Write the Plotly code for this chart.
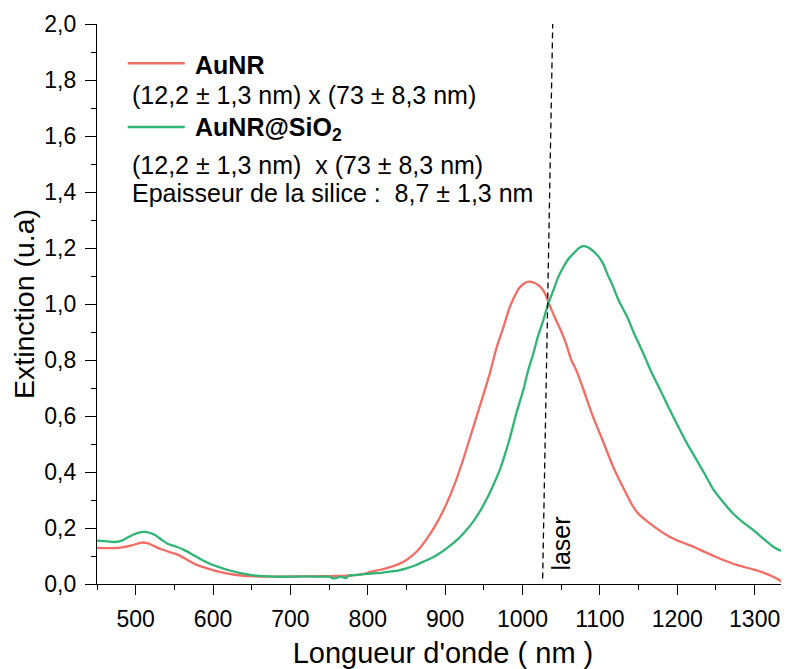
import plotly.graph_objects as go

# ---------------- data ----------------
wl_aunr = [450, 465, 480, 495, 507, 515, 533, 555, 576, 602, 628, 654, 680, 710, 740,
           760, 780, 795, 803, 815, 830, 840, 850, 863, 876, 890, 902, 913, 923, 935, 947,
           958, 966, 975, 983, 988, 996, 1003, 1008, 1015, 1020, 1025, 1029, 1035, 1042,
           1048, 1056, 1063, 1070, 1078, 1091, 1104, 1117, 1130, 1143, 1150, 1156, 1170,
           1190, 1205, 1221, 1235, 1247, 1262, 1277, 1298, 1312, 1324, 1332, 1338, 1346]
ext_aunr = [0.129, 0.128, 0.130, 0.138, 0.148, 0.146, 0.124, 0.104, 0.072, 0.048, 0.033,
            0.027, 0.026, 0.027, 0.028, 0.029, 0.031, 0.036, 0.043, 0.050, 0.061, 0.071, 0.086,
            0.115, 0.160, 0.222, 0.288, 0.362, 0.442, 0.548, 0.655, 0.755, 0.840, 0.915,
            0.985, 1.018, 1.058, 1.075, 1.080, 1.076, 1.068, 1.055, 1.038, 0.996, 0.950,
            0.915, 0.860, 0.800, 0.760, 0.700, 0.598, 0.510, 0.419, 0.345, 0.276, 0.250,
            0.235, 0.205, 0.169, 0.150, 0.133, 0.115, 0.100, 0.083, 0.068, 0.052, 0.040,
            0.026, 0.014, 0.002, -0.012]

wl_sio2 = [450, 460, 473, 482, 490, 500, 510, 518, 525, 535, 542, 553, 563, 578, 593, 606,
           619, 634, 650, 665, 680, 700, 720, 740, 750, 755, 760, 765, 772, 775, 785, 795,
           807, 818, 828, 840, 850, 861, 872, 883, 893, 904, 915, 925, 936, 945, 954, 962,
           971, 977, 984, 992, 1001, 1007, 1014, 1020, 1027, 1033, 1040, 1046, 1053, 1059,
           1066, 1072, 1078, 1085, 1091, 1098, 1104, 1110, 1117, 1124, 1135, 1145, 1152,
           1156, 1166, 1178, 1188, 1199, 1212, 1225, 1236, 1247, 1260, 1272, 1285, 1298,
           1312, 1324, 1333, 1342, 1346]
ext_sio2 = [0.155, 0.153, 0.150, 0.155, 0.167, 0.180, 0.186, 0.183, 0.175, 0.155, 0.143,
            0.133, 0.121, 0.098, 0.076, 0.062, 0.050, 0.040, 0.032, 0.028, 0.026, 0.026,
            0.027, 0.026, 0.026, 0.020, 0.022, 0.026, 0.021, 0.030, 0.032, 0.035, 0.038,
            0.040, 0.044, 0.049, 0.056, 0.066, 0.080, 0.094, 0.110, 0.132, 0.157, 0.185,
            0.222, 0.260, 0.305, 0.352, 0.410, 0.460, 0.525, 0.610, 0.693, 0.760, 0.824,
            0.885, 0.943, 1.000, 1.050, 1.095, 1.133, 1.160, 1.181, 1.198, 1.207, 1.202,
            1.190, 1.170, 1.145, 1.105, 1.062, 1.014, 0.955, 0.890, 0.848, 0.824, 0.760,
            0.693, 0.635, 0.574, 0.505, 0.443, 0.390, 0.336, 0.290, 0.252, 0.220, 0.193,
            0.160, 0.133, 0.120, 0.115, 0.110]

laser_wl = [1026, 1039]
laser_ext = [0.02, 2.0]

x_ticks = [500, 600, 700, 800, 900, 1000, 1100, 1200, 1300]
y_ticks = [0.0, 0.2, 0.4, 0.6, 0.8, 1.0, 1.2, 1.4, 1.6, 1.8, 2.0]
x_range = [450, 1344.4]
y_range = [0, 2.0]

red = "#F26D64"
green = "#2FB574"
FONT = "Liberation Sans, Arial, sans-serif"

fig = go.Figure()
fig.add_trace(go.Scatter(x=wl_aunr, y=ext_aunr, mode="lines", name="AuNR",
                         line=dict(color=red, width=2.3, shape="spline", smoothing=0.6),
                         showlegend=False))
fig.add_trace(go.Scatter(x=wl_sio2, y=ext_sio2, mode="lines", name="AuNR@SiO2",
                         line=dict(color=green, width=2.3, shape="spline", smoothing=0.6),
                         showlegend=False))
fig.add_trace(go.Scatter(x=laser_wl, y=laser_ext, mode="lines", name="laser",
                         line=dict(color="black", width=1.3, dash="6px,4px"),
                         showlegend=False))

axis_common = dict(showgrid=False, zeroline=False, linecolor="black", linewidth=1.3,
                   tickcolor="black", tickwidth=1.3, automargin=False)

# the page body has an 8 px margin, so the figure is 8 px smaller than the window
fig.update_layout(
    width=781, height=661,
    margin=dict(l=89, r=0, t=16, b=85),
    plot_bgcolor="white", paper_bgcolor="white",
    separators=",.",
    font=dict(family=FONT, color="black"),
    xaxis=dict(range=x_range, tickvals=x_ticks, ticks="outside", ticklen=10,
               showline=True, tickfont=dict(size=23), ticklabelstandoff=4,
               minor=dict(dtick=50, tick0=450, ticklen=5, ticks="outside",
                          tickcolor="black", tickwidth=1.3),
               title=dict(text="Longueur d'onde ( nm )", font=dict(size=29), standoff=17),
               **axis_common),
    yaxis=dict(range=y_range, tickvals=y_ticks, tickformat=".1f", ticks="outside",
               ticklen=11, showline=True, tickfont=dict(size=23), ticklabelstandoff=4,
               minor=dict(dtick=0.1, tick0=0, ticklen=5, ticks="outside",
                          tickcolor="black", tickwidth=1.3),
               title=dict(text="Extinction (u.a)", font=dict(size=28.5), standoff=2),
               **axis_common),
    xaxis2=dict(range=x_range, overlaying="x", side="top", anchor="y",
                tickvals=x_ticks, ticks="inside", ticklen=10, showticklabels=False,
                showline=True,
                minor=dict(dtick=50, tick0=450, ticklen=5, ticks="inside",
                           tickcolor="black", tickwidth=1.3),
                **axis_common),
    yaxis2=dict(range=y_range, overlaying="y", side="right", anchor="x",
                tickvals=y_ticks, ticks="inside", ticklen=6, showticklabels=False,
                showline=False, automargin=False,
                minor=dict(dtick=0.1, tick0=0, ticklen=2, ticks="inside",
                           tickcolor="black", tickwidth=1.3),
                showgrid=False, zeroline=False, tickcolor="black", tickwidth=1.3),
)

# legend-like block (lines + text)
fig.add_shape(type="line", xref="paper", yref="paper", x0=0.0444, x1=0.1268,
              y0=0.930, y1=0.930, line=dict(color=red, width=2.5))
fig.add_shape(type="line", xref="paper", yref="paper", x0=0.0444, x1=0.1268,
              y0=0.816, y1=0.816, line=dict(color=green, width=2.5))

def note(text, x, y, size=25):
    fig.add_annotation(text=text, xref="paper", yref="paper", x=x, y=y,
                       xanchor="left", yanchor="middle", showarrow=False,
                       font=dict(size=size, color="black", family=FONT))

note("<b>AuNR</b>", 0.1385, 0.927)
note("(12,2 ± 1,3 nm) x (73 ± 8,3 nm)", 0.0474, 0.873)
note("<b>AuNR@SiO<sub>2</sub></b>", 0.1385, 0.812)
note("(12,2 ± 1,3 nm)\u00a0 x (73 ± 8,3 nm)", 0.0474, 0.748)
note("Epaisseur de la silice :\u00a0 8,7 ± 1,3 nm", 0.0474, 0.698)

fig.add_annotation(text="laser", x=1050, y=0.145, xref="x", yref="y", textangle=-90,
                   showarrow=False, font=dict(size=25, color="black", family=FONT))

fig.write_html("out.html")
